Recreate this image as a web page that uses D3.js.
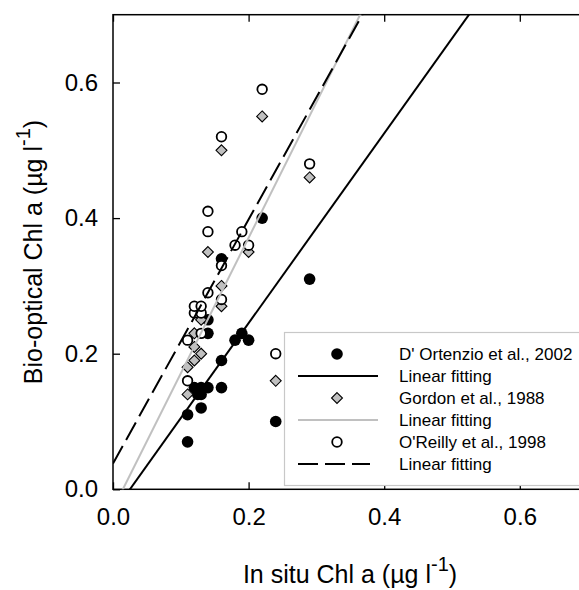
<!DOCTYPE html>
<html>
<head>
<meta charset="utf-8">
<script src="https://cdn.jsdelivr.net/npm/d3@7"></script>
<style>
  body { margin: 0; background: #fff; }
  svg { display: block; font-family: Arial, "Liberation Sans", sans-serif; }
</style>
</head>
<body>
<svg id="chart" width="579" height="590"></svg>
<script>
// D' Ortenzio et al., 2002 (filled circles)
const ortenzioX = [0.11, 0.11, 0.12, 0.125, 0.13, 0.13, 0.13, 0.14, 0.14, 0.14, 0.16, 0.16, 0.16, 0.18, 0.19, 0.20, 0.22, 0.24, 0.29];
const ortenzioY = [0.07, 0.11, 0.15, 0.14, 0.12, 0.14, 0.15, 0.15, 0.23, 0.25, 0.15, 0.19, 0.34, 0.22, 0.23, 0.22, 0.40, 0.10, 0.31];
// Gordon et al., 1988 (grey diamonds)
const gordonX = [0.11, 0.11, 0.12, 0.12, 0.13, 0.12, 0.13, 0.14, 0.16, 0.16, 0.16, 0.20, 0.22, 0.24, 0.29];
const gordonY = [0.14, 0.18, 0.19, 0.21, 0.20, 0.23, 0.25, 0.35, 0.27, 0.30, 0.50, 0.35, 0.55, 0.16, 0.46];
// O'Reilly et al., 1998 (open circles)
const oreillyX = [0.11, 0.11, 0.12, 0.12, 0.13, 0.13, 0.13, 0.14, 0.14, 0.14, 0.16, 0.16, 0.16, 0.18, 0.19, 0.20, 0.22, 0.24, 0.29];
const oreillyY = [0.16, 0.22, 0.26, 0.27, 0.23, 0.26, 0.27, 0.29, 0.38, 0.41, 0.28, 0.33, 0.52, 0.36, 0.38, 0.36, 0.59, 0.20, 0.48];

// Linear fittings: D' Ortenzio, Gordon, O'Reilly
const fitSlope = [1.40, 2.00, 1.80];
const fitIntercept = [-0.035, -0.029, 0.038];

const tickValues = [0, 0.2, 0.4, 0.6];
const legendLabels = ["D' Ortenzio et al., 2002", "Linear fitting", "Gordon et al., 1988", "Linear fitting", "O'Reilly et al., 1998", "Linear fitting"];

const svg = d3.select("#chart");
const plotLeft = 113, plotTop = 14.7, plotRight = 587.6, plotBottom = 489.3;

const x = d3.scaleLinear().domain([0, 0.7]).range([plotLeft, plotRight]);
const y = d3.scaleLinear().domain([0, 0.7]).range([plotBottom, plotTop]);

svg.append("defs").append("clipPath").attr("id", "plot-clip")
  .append("rect")
  .attr("x", plotLeft).attr("y", plotTop)
  .attr("width", plotRight - plotLeft).attr("height", plotBottom - plotTop);

// Axes with inward ticks on all four sides
function styleAxis(g) {
  g.select(".domain").remove();
  g.selectAll(".tick line").attr("stroke", "#000").attr("stroke-width", 1.3);
  g.selectAll(".tick text").attr("font-size", 24).attr("fill", "#000");
}
svg.append("g")
  .attr("transform", `translate(0,${plotBottom})`)
  .call(d3.axisBottom(x).tickValues(tickValues).tickFormat(d3.format(".1f")).tickSize(-7).tickPadding(19))
  .call(styleAxis);
svg.append("g")
  .attr("transform", `translate(0,${plotTop})`)
  .call(d3.axisTop(x).tickValues(tickValues).tickFormat("").tickSize(-7))
  .call(styleAxis);
svg.append("g")
  .attr("transform", `translate(${plotLeft},0)`)
  .call(d3.axisLeft(y).tickValues(tickValues).tickFormat(d3.format(".1f")).tickSize(-7).tickPadding(15))
  .call(styleAxis);
svg.append("g")
  .attr("transform", `translate(${plotRight},0)`)
  .call(d3.axisRight(y).tickValues(tickValues).tickFormat("").tickSize(-7))
  .call(styleAxis);

svg.append("rect")
  .attr("x", plotLeft).attr("y", plotTop)
  .attr("width", plotRight - plotLeft).attr("height", plotBottom - plotTop)
  .attr("fill", "none").attr("stroke", "#000").attr("stroke-width", 1.5);

const plot = svg.append("g").attr("clip-path", "url(#plot-clip)");

// Markers
plot.selectAll(".ortenzio")
  .data(d3.zip(ortenzioX, ortenzioY))
  .enter().append("circle")
  .attr("cx", d => x(d[0])).attr("cy", d => y(d[1]))
  .attr("r", 5.8).attr("fill", "#000");

const diamond = d3.symbol().type(d3.symbolDiamond2).size(76);
plot.selectAll(".gordon")
  .data(d3.zip(gordonX, gordonY))
  .enter().append("path")
  .attr("d", diamond)
  .attr("transform", d => `translate(${x(d[0])},${y(d[1])})`)
  .attr("fill", "#c0c0c0").attr("stroke", "#000").attr("stroke-width", 1.1);

plot.selectAll(".oreilly")
  .data(d3.zip(oreillyX, oreillyY))
  .enter().append("circle")
  .attr("cx", d => x(d[0])).attr("cy", d => y(d[1]))
  .attr("r", 4.8).attr("fill", "#fff").attr("stroke", "#000").attr("stroke-width", 1.8);

// Fitted lines
const fitColor = ["#000", "#c0c0c0", "#000"];
const fitDash = [null, null, "20,7"];
const line = d3.line().x(d => x(d[0])).y(d => y(d[1]));
fitSlope.forEach((m, i) => {
  const pts = x.domain().map(v => [v, m * v + fitIntercept[i]]);
  plot.append("path")
    .datum(pts)
    .attr("d", line)
    .attr("fill", "none")
    .attr("stroke", fitColor[i])
    .attr("stroke-width", 2)
    .attr("stroke-dasharray", fitDash[i]);
});

// Legend
const legend = svg.append("g");
legend.append("rect")
  .attr("x", 284.5).attr("y", 332.5)
  .attr("width", 330).attr("height", 153)
  .attr("fill", "#fff").attr("stroke", "#c8c8c8").attr("stroke-width", 1.2);

const rowY = i => 354 + i * 22;
legend.append("circle").attr("cx", 337).attr("cy", rowY(0)).attr("r", 5.8).attr("fill", "#000");
legend.append("path").attr("d", diamond)
  .attr("transform", `translate(337,${rowY(2)})`)
  .attr("fill", "#c0c0c0").attr("stroke", "#000").attr("stroke-width", 1.1);
legend.append("circle").attr("cx", 337).attr("cy", rowY(4)).attr("r", 4.8)
  .attr("fill", "#fff").attr("stroke", "#000").attr("stroke-width", 1.8);
[1, 3, 5].forEach((row, i) => {
  legend.append("line")
    .attr("x1", 298).attr("x2", row === 5 ? 370 : 378)
    .attr("y1", rowY(row)).attr("y2", rowY(row))
    .attr("stroke", fitColor[i]).attr("stroke-width", 2)
    .attr("stroke-dasharray", fitDash[i]);
});
legend.selectAll(".leg-text")
  .data(legendLabels)
  .enter().append("text")
  .attr("x", 399).attr("y", (d, i) => rowY(i) + 6)
  .attr("font-size", 17)
  .text(d => d);

// Axis titles
const xTitle = svg.append("text")
  .attr("x", 350).attr("y", 583)
  .attr("text-anchor", "middle")
  .attr("font-size", 25);
xTitle.append("tspan").text("In situ Chl a (\u00b5g l");
xTitle.append("tspan").attr("font-size", 20).attr("dy", -12).text("-1");
xTitle.append("tspan").attr("dy", 12).text(")");

const yTitle = svg.append("text")
  .attr("transform", "translate(42,252) rotate(-90)")
  .attr("text-anchor", "middle")
  .attr("font-size", 25);
yTitle.append("tspan").text("Bio-optical Chl a (\u00b5g l");
yTitle.append("tspan").attr("font-size", 20).attr("dy", -12).text("-1");
yTitle.append("tspan").attr("dy", 12).text(")");
</script>
</body>
</html>
